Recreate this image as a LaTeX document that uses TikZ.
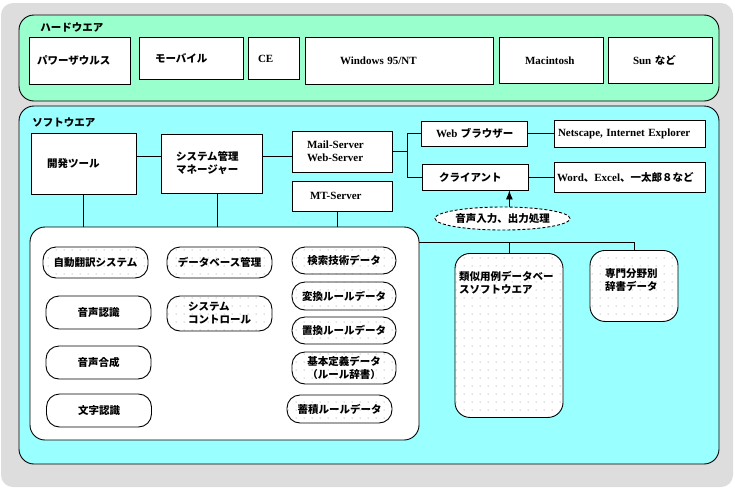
\documentclass[tikz,border=0pt]{standalone}
\usepackage{fontspec}
\setmainfont{Noto Sans CJK JP}
\newfontfamily\serifbold{Liberation Serif}
\newcommand{\EN}[1]{{\serifbold\fontsize{11}{13}\selectfont #1}}
\usetikzlibrary{shapes.geometric,patterns.meta,arrows.meta}
\definecolor{bggray}{HTML}{DDDDDD}
\definecolor{hwgreen}{HTML}{99FFCC}
\definecolor{swcyan}{HTML}{99FFFF}

\begin{document}
\begin{tikzpicture}[x=1pt, y=-1pt, line width=0.9pt,
    every node/.style={font=\bfseries\fontsize{10.5}{13}\selectfont},
    box/.style={draw, fill=white, align=left, inner ysep=0pt},
    pill/.style={draw, fill=white, rectangle, rounded corners=13pt, minimum width=105pt, inner sep=0pt, align=center},
    speckle/.style={preaction={fill=white}, pattern={Dots[distance=8pt, radius=0.5pt]}, pattern color=gray},
    title/.style={anchor=west, inner sep=0pt}]
    \useasboundingbox (0,0) rectangle (735,490);
    \fill[bggray, rounded corners=12pt] (1,3) rectangle (733,487);

    % hardware
    \draw[fill=hwgreen, rounded corners=15pt] (19,15) rectangle (719,101);
    \node[title] (hw) at (40,28) {ハードウエア};
    \node[box, anchor=north, minimum height=47pt, text width=85pt, inner xsep=8pt] (pz) at (79.5,37) {パワーザウルス};
    \node[box, anchor=north, minimum height=42pt, text width=72pt, inner xsep=16pt] (mob) at (191,37) {モーバイル};
    \node[box, anchor=north, minimum height=42pt, text width=31pt, inner xsep=10pt] (ce) at (273.5,37) {\EN{CE}};
    \node[box, anchor=north, minimum height=47pt, text width=118pt, inner xsep=35pt] (win) at (399,37) {\EN{Windows 95/NT}};
    \node[box, anchor=north, minimum height=46pt, text width=52pt, inner xsep=26pt] (mac) at (551,37) {\EN{Macintosh}};
    \node[box, anchor=north, minimum height=46pt, text width=54pt, inner xsep=25pt] (sun) at (660,37) {\EN{Sun} など};

    % software
    \draw[fill=swcyan, rounded corners=15pt] (19,106) rectangle (719,464);
    \node[title] (sw) at (32,123) {ソフトウエア};
    \node[box, minimum height=61pt, text width=73pt, inner xsep=16pt] (dev) at (83.5,163.5) {開発ツール};
    \node[box, minimum height=59pt, text width=71pt, inner xsep=15pt] (sys) at (211.5,163.5) {システム管理\\マネージャー};
    \node[box, minimum height=41pt, text width=70pt, inner xsep=15pt] (mail) at (342,151.5) {\EN{Mail-Server}\\\EN{Web-Server}};
    \node[box, minimum height=30pt, text width=64pt, inner xsep=18pt] (mt) at (342,196) {\EN{MT-Server}};
    \node[box, minimum height=25pt, text width=86pt, inner xsep=10pt] (web) at (474,133.5) {\hspace*{5pt}\EN{Web} ブラウザー};
    \node[box, minimum height=26pt, text width=72pt, inner xsep=17pt] (client) at (475,177) {クライアント};
    \node[box, minimum height=27pt, text width=143pt, inner xsep=4pt] (browser) at (629.5,133.5) {\EN{Netscape, Internet Explorer}};
    \node[box, minimum height=30pt, text width=145pt, inner xsep=3pt] (apps) at (629.5,177) {\EN{Word}、\EN{Excel}、一太郎８など};
    \node[draw, fill=white, ellipse, dash pattern=on 3pt off 2pt, minimum width=135pt, minimum height=23pt, inner sep=0pt] (voice) at (502.5,218.5) {音声入力、出力処理};

    \node[draw, fill=white, rounded corners=15pt, minimum width=389pt, minimum height=213pt, inner sep=0pt] (tools) at (224.5,333.5) {};
    \node[pill, speckle, minimum height=31pt] (autotr) at (95.5,262.5) {自動翻訳システム};
    \node[pill, minimum height=33pt] (asr) at (98.5,312.5) {音声認識};
    \node[pill, minimum height=33pt] (tts) at (98.5,362.5) {音声合成};
    \node[pill, minimum height=33pt] (ocr) at (99,410.5) {文字認識};
    \node[pill, speckle, minimum height=31pt] (dbm) at (219.5,262.5) {データベース管理};
    \node[pill, speckle, minimum height=35pt, align=left] (ctrl) at (219.5,313.5) {システム\\コントロール};
    \node[pill, speckle, minimum width=104pt, minimum height=27pt] (search) at (344,260.5) {検索技術データ};
    \node[pill, speckle, minimum width=104pt, minimum height=28pt] (conv) at (344,296) {変換ルールデータ};
    \node[pill, speckle, minimum width=104pt, minimum height=27pt] (subst) at (344,330.5) {置換ルールデータ};
    \node[pill, speckle, minimum width=104pt, minimum height=32pt] (basic) at (344,368) {基本定義データ\\（ルール辞書）};
    \node[pill, speckle, minimum height=28pt] (store) at (339.5,409) {蓄積ルールデータ};

    \node[draw, speckle, rounded corners=15pt, anchor=north, text width=100pt, inner xsep=4pt, inner ysep=0pt, text height=27pt, text depth=137pt, align=left] (ruiji) at (509,253) {類似用例データベー\\スソフトウエア};
    \node[draw, speckle, rounded corners=15pt, anchor=north, text width=58pt, inner xsep=15pt, inner ysep=0pt, text height=27pt, text depth=44pt, align=left] (senmon) at (634,250) {専門分野別\\辞書データ};

    % connectors
    \draw (dev.8) -- (dev.8 -| sys.west);
    \draw (sys.east |- dev.8) -- (dev.8 -| mail.west);
    \draw (mail.east) -- ++(15,0) coordinate (fork);
    \draw (web.west) -| (fork) |- (client.west);
    \draw (web) -- (browser);
    \draw (client) -- (apps);
    \draw[-{Latex[length=9pt,width=7pt]}] (voice.60) -- (voice.60 |- client.south);
    \draw (dev.south) -- (dev.south |- tools.north);
    \draw (sys.-79) -- (sys.-79 |- tools.north);
    \draw (mt.-105) -- (mt.-105 |- tools.north);
    \coordinate (tap) at (tools.east |- 0,242);
    \draw (tap) -| (senmon.north);
    \draw (ruiji.north) -- (ruiji.north |- tap);
\end{tikzpicture}
\end{document}
